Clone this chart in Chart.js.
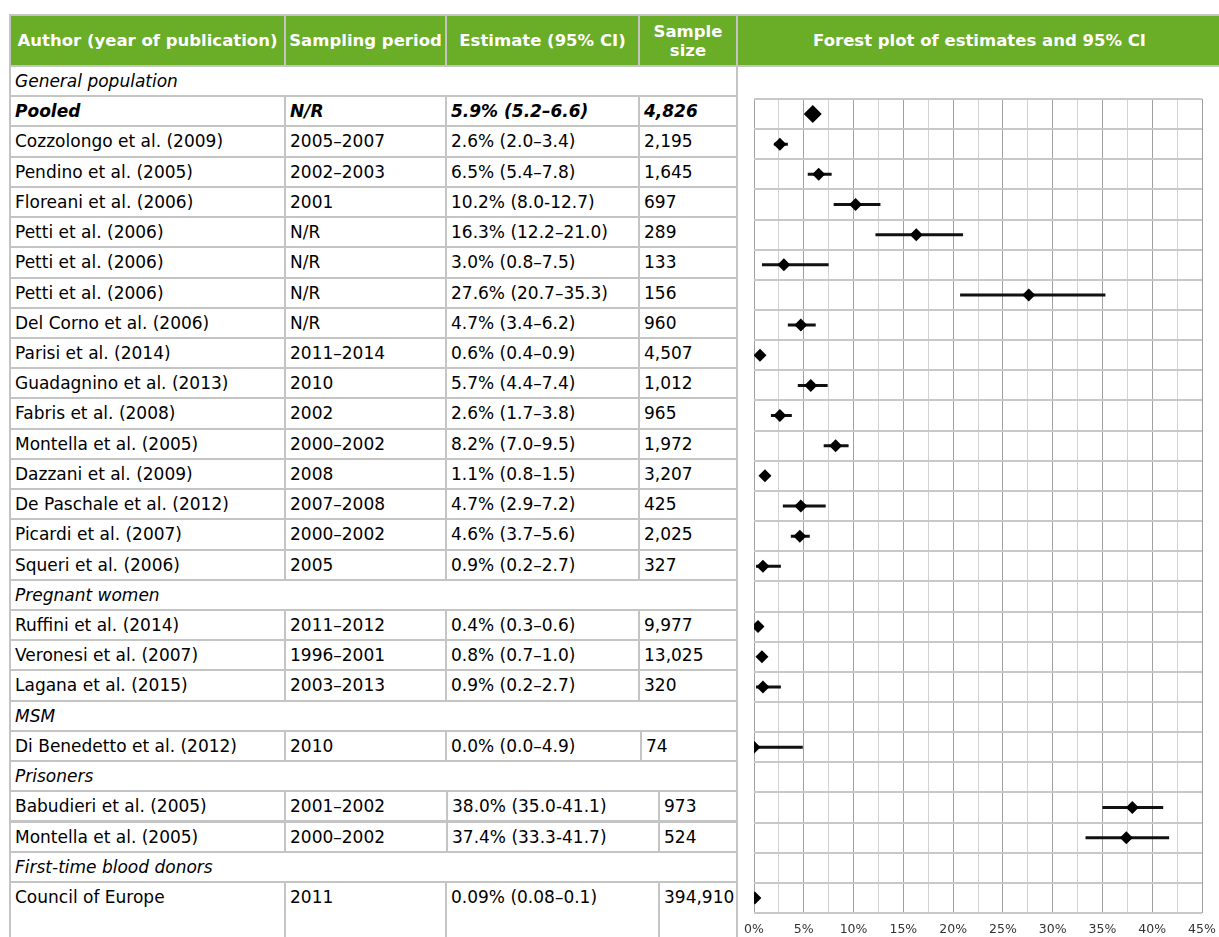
<!DOCTYPE html>
<html>
<head>
<meta charset="utf-8">
<script src="https://cdn.jsdelivr.net/npm/chart.js@4.4.0/dist/chart.umd.min.js"></script>
<style>
    html, body { margin: 0; background: #fff; overflow: hidden; font-family: "DejaVu Sans", sans-serif; }
    #tabela { position: absolute; left: 0; top: 0; width: 1219px; height: 937px; overflow: hidden; }
    .cel {
        position: absolute;
        box-sizing: border-box;
        border: 2px solid #c4c4c4;
        padding-left: 4px;
        font-size: 17px;
        color: #000;
        white-space: nowrap;
        overflow: hidden;
    }
    .cab {
        background: #6aad27;
        color: #fff;
        font-weight: bold;
        font-size: 16.5px;
        text-align: center;
        padding: 0;
        display: flex;
        align-items: center;
        justify-content: center;
        line-height: 19px;
    }
    .grupo { font-style: italic; }
    .pooled { font-style: italic; font-weight: bold; }
    #forest { position: absolute; left: 734px; top: 90px; width: 492px; height: 847px; }
</style>
</head>
<body>
<div id="tabela"></div>
<div id="forest"><canvas id="graficoForest"></canvas></div>

<script>
// grupos de população e estudos
const grupos = ['General population', 'Pregnant women', 'MSM', 'Prisoners', 'First-time blood donors'];

const autores = [
    'Pooled', 'Cozzolongo et al. (2009)', 'Pendino et al. (2005)', 'Floreani et al. (2006)',
    'Petti et al. (2006)', 'Petti et al. (2006)', 'Petti et al. (2006)', 'Del Corno et al. (2006)',
    'Parisi et al. (2014)', 'Guadagnino et al. (2013)', 'Fabris et al. (2008)', 'Montella et al. (2005)',
    'Dazzani et al. (2009)', 'De Paschale et al. (2012)', 'Picardi et al. (2007)', 'Squeri et al. (2006)',
    'Ruffini et al. (2014)', 'Veronesi et al. (2007)', 'Lagana et al. (2015)',
    'Di Benedetto et al. (2012)',
    'Babudieri et al. (2005)', 'Montella et al. (2005)',
    'Council of Europe'
];
const grupoDoEstudo = [0, 0, 0, 0, 0, 0, 0, 0, 0, 0, 0, 0, 0, 0, 0, 0, 1, 1, 1, 2, 3, 3, 4];

const periodos = [
    'N/R', '2005–2007', '2002–2003', '2001', 'N/R', 'N/R', 'N/R', 'N/R',
    '2011–2014', '2010', '2002', '2000–2002', '2008', '2007–2008', '2000–2002', '2005',
    '2011–2012', '1996–2001', '2003–2013', '2010', '2001–2002', '2000–2002', '2011'
];

// estimativa e IC 95% (%)
const estimativas = [5.9, 2.6, 6.5, 10.2, 16.3, 3.0, 27.6, 4.7, 0.6, 5.7, 2.6, 8.2, 1.1, 4.7, 4.6, 0.9, 0.4, 0.8, 0.9, 0.0, 38.0, 37.4, 0.09];
const limInf = [5.2, 2.0, 5.4, 8.0, 12.2, 0.8, 20.7, 3.4, 0.4, 4.4, 1.7, 7.0, 0.8, 2.9, 3.7, 0.2, 0.3, 0.7, 0.2, 0.0, 35.0, 33.3, 0.08];
const limSup = [6.6, 3.4, 7.8, 12.7, 21.0, 7.5, 35.3, 6.2, 0.9, 7.4, 3.8, 9.5, 1.5, 7.2, 5.6, 2.7, 0.6, 1.0, 2.7, 4.9, 41.1, 41.7, 0.1];
const textoIC = [
    '5.9% (5.2–6.6)', '2.6% (2.0–3.4)', '6.5% (5.4–7.8)', '10.2% (8.0-12.7)', '16.3% (12.2–21.0)',
    '3.0% (0.8–7.5)', '27.6% (20.7–35.3)', '4.7% (3.4–6.2)', '0.6% (0.4–0.9)', '5.7% (4.4–7.4)',
    '2.6% (1.7–3.8)', '8.2% (7.0–9.5)', '1.1% (0.8–1.5)', '4.7% (2.9–7.2)', '4.6% (3.7–5.6)',
    '0.9% (0.2–2.7)', '0.4% (0.3–0.6)', '0.8% (0.7–1.0)', '0.9% (0.2–2.7)', '0.0% (0.0–4.9)',
    '38.0% (35.0-41.1)', '37.4% (33.3-41.7)', '0.09% (0.08–0.1)'
];
const amostras = [
    '4,826', '2,195', '1,645', '697', '289', '133', '156', '960', '4,507', '1,012', '965', '1,972',
    '3,207', '425', '2,025', '327', '9,977', '13,025', '320', '74', '973', '524', '394,910'
];

const ticksX = [0, 5, 10, 15, 20, 25, 30, 35, 40, 45];

// ---------------- tabela ----------------
const tabela = document.getElementById('tabela');
const topoCorpo = 66;
const alturaLinha = 30.22;
const colunasPadrao = [10, 285, 446, 639, 737];
const colunasPorGrupo = {
    2: [10, 285, 446, 641, 737],
    3: [10, 285, 447, 659, 737],
    4: [10, 285, 446, 659, 737]
};

function celula(x1, x2, y1, y2, texto, classe) {
    const d = document.createElement('div');
    d.className = 'cel ' + (classe || '');
    d.style.left = (x1 - 1) + 'px';
    d.style.width = (x2 - x1 + 2) + 'px';
    d.style.top = (y1 - 1) + 'px';
    d.style.height = (y2 - y1 + 2) + 'px';
    if (!classe || classe.indexOf('cab') < 0) d.style.lineHeight = (alturaLinha - 2) + 'px';
    d.innerHTML = texto;
    tabela.appendChild(d);
    return d;
}

// cabeçalho
const cabecalho = ['Author (year of publication)', 'Sampling period', 'Estimate (95% CI)', 'Sample<br>size', 'Forest plot of estimates and 95% CI'];
const colCab = [10, 285, 446, 639, 737, 1222];
cabecalho.forEach((t, i) => celula(colCab[i], colCab[i + 1], 15, topoCorpo, t, 'cab'));

// coluna do forest plot
celula(737, 1222, topoCorpo, 960, '', '');

// linhas do corpo
let linha = 0;
let grupoAtual = -1;
const linhaDoEstudo = [];
autores.forEach((autor, i) => {
    if (grupoDoEstudo[i] !== grupoAtual) {
        grupoAtual = grupoDoEstudo[i];
        const y = topoCorpo + linha * alturaLinha;
        celula(10, 737, y, y + alturaLinha, grupos[grupoAtual], 'grupo');
        linha++;
    }
    const y = topoCorpo + linha * alturaLinha;
    const ultima = i === autores.length - 1;
    const y2 = ultima ? 960 : y + alturaLinha;
    const cols = colunasPorGrupo[grupoAtual] || colunasPadrao;
    const classe = autor === 'Pooled' ? 'pooled' : '';
    const textos = [autor, periodos[i], textoIC[i], amostras[i]];
    textos.forEach((t, c) => celula(cols[c], cols[c + 1], y, y2, t, classe));
    linhaDoEstudo.push(linha - 1);
    linha++;
});
const totalLinhas = linha - 1;

// ---------------- forest plot ----------------
const pontos = estimativas.map((v, i) => ({ x: v, y: linhaDoEstudo[i] + 0.5 }));

// intervalos: pares de pontos separados por um ponto nulo
const intervalos = [];
limInf.forEach((lo, i) => {
    const y = linhaDoEstudo[i] + 0.5;
    intervalos.push({ x: lo, y: y }, { x: limSup[i], y: y }, { x: limSup[i], y: null });
});

const ctx = document.getElementById('graficoForest').getContext('2d');
new Chart(ctx, {
    type: 'scatter',
    data: {
        datasets: [
            {
                label: 'Estimativa',
                data: pontos,
                pointStyle: 'rectRot',
                pointRadius: autores.map(a => a === 'Pooled' ? 9 : 6.5),
                backgroundColor: '#000',
                borderColor: '#000',
                borderWidth: 0,
                order: 0
            },
            {
                label: 'IC 95%',
                type: 'line',
                data: intervalos,
                showLine: true,
                spanGaps: false,
                borderColor: '#111',
                borderWidth: 3,
                pointRadius: 0,
                order: 1
            }
        ]
    },
    options: {
        responsive: true,
        maintainAspectRatio: false,
        animation: false,
        layout: { padding: { left: 0, right: 0, top: 7, bottom: 0 } },
        plugins: {
            legend: { display: false },
            tooltip: { enabled: false }
        },
        scales: {
            x: {
                type: 'linear',
                min: ticksX[0],
                max: ticksX[ticksX.length - 1],
                afterFit(axis) { axis.height = 24; },
                ticks: {
                    stepSize: 2.5,
                    autoSkip: false,
                    maxRotation: 0,
                    padding: 9,
                    color: '#333',
                    font: { family: '"DejaVu Sans"', size: 12.5 },
                    callback: v => ticksX.includes(v) ? v + '%' : ''
                },
                grid: {
                    drawTicks: false,
                    lineWidth: 1,
                    color: c => (c.tick && ticksX.includes(c.tick.value)) ? '#a0a0a0' : '#d2d2d2'
                },
                border: { display: false }
            },
            y: {
                type: 'linear',
                position: 'left',
                min: 0,
                max: totalLinhas,
                reverse: true,
                afterFit(axis) { axis.width = 20; },
                ticks: { display: false, stepSize: 1 },
                grid: { drawTicks: false, lineWidth: 2, color: '#c8c8c8' },
                border: { display: false }
            },
            // margem à direita do gráfico
            yDir: {
                type: 'linear',
                position: 'right',
                afterFit(axis) { axis.width = 24; },
                ticks: { display: false },
                grid: { display: false },
                border: { display: false }
            }
        }
    }
});
</script>
</body>
</html>
